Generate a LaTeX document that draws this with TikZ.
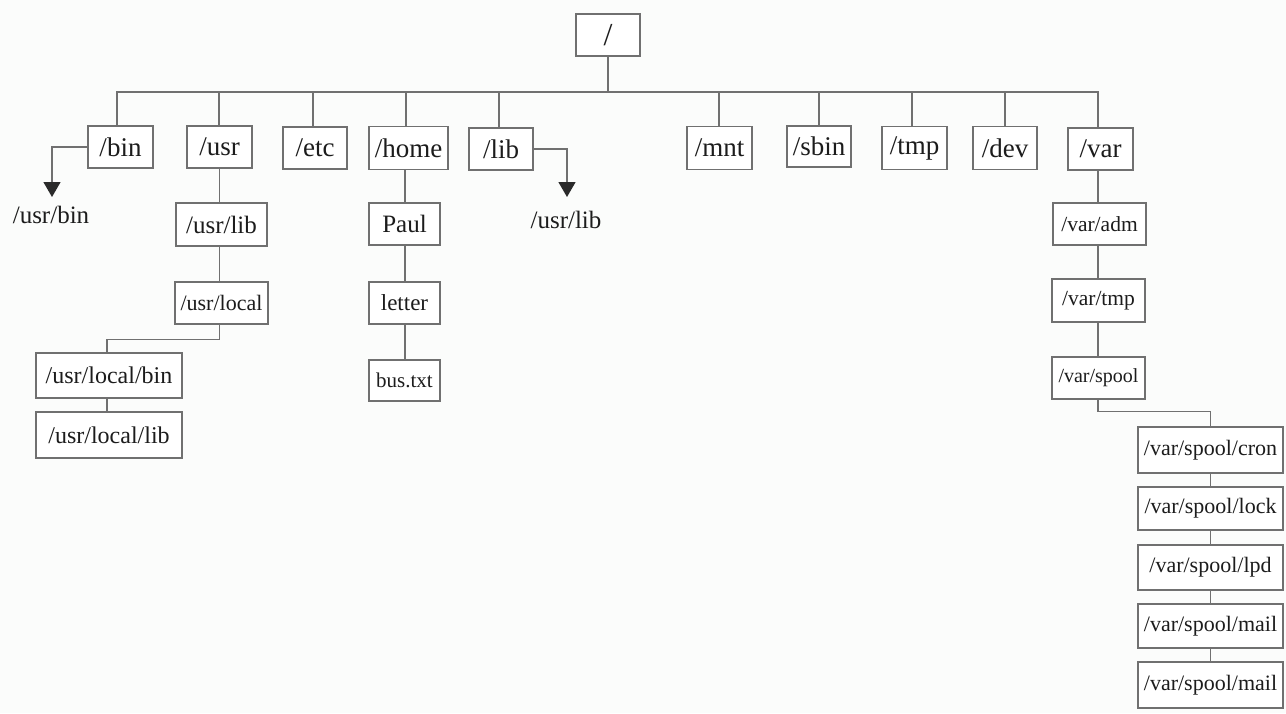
\documentclass[tikz,border=0pt]{standalone}
\usepackage{fontspec}
\setmainfont{Liberation Serif}
\usetikzlibrary{arrows.meta}
\definecolor{linegray}{HTML}{707070}
\definecolor{txt}{HTML}{1C1C1C}
\definecolor{tipcol}{HTML}{2A2A2A}
\definecolor{bg}{HTML}{FBFCFB}
\tikzset{
  box/.style={draw=linegray, line width=1.3pt, fill=white, inner sep=0pt, text=txt, anchor=center},
  fa/.style={font=\fontsize{27}{27}\selectfont},
  fb/.style={font=\fontsize{25}{25}\selectfont},
  fc/.style={font=\fontsize{22}{22}\selectfont},
  fd/.style={font=\fontsize{20}{20}\selectfont},
  conn/.style={draw=linegray, line width=1.3pt},
  arr/.style={conn, -{Triangle[width=17pt,length=15pt,fill=tipcol,color=tipcol]}},
  lbl/.style={text=txt, anchor=base, inner sep=0pt}
}
\begin{document}
\begin{tikzpicture}[x=1pt,y=-1pt]
\fill[bg] (0,0) rectangle (1286,713);
\useasboundingbox (0,0) rectangle (1286,713);

% root
\node[box, minimum width=64, minimum height=42, font=\fontsize{32}{32}\selectfont] (root) at (608,35) {/};
\coordinate (bus) at (608,92);

% level 1
\node[box, fa, minimum width=65, minimum height=42] (bin)  at (120.5,147) {/bin};
\node[box, fa, minimum width=65, minimum height=42] (usr)  at (219.5,147) {/usr};
\node[box, fa, minimum width=64, minimum height=42] (etc)  at (315,148) {/etc};
\node[box, fa, minimum width=79, minimum height=43] (home) at (408.5,148) {/home};
\node[box, fa, minimum width=64, minimum height=42] (lib)  at (501,149) {/lib};
\node[box, fa, minimum width=65, minimum height=43] (mnt)  at (719.5,148) {/mnt};
\node[box, fa, minimum width=64, minimum height=41] (sbin) at (819,146.5) {/sbin};
\node[box, fa, minimum width=65, minimum height=43] (tmp)  at (914.5,148) {/tmp};
\node[box, fa, minimum width=64, minimum height=43] (dev)  at (1005,148) {/dev};
\node[box, fa, minimum width=65, minimum height=42] (var)  at (1100.5,149) {/var};

\foreach \n/\x in {bin/117,usr/219,etc/313,home/406,lib/499,mnt/719,sbin/819,tmp/912,dev/1005,var/1098}{
  \draw[conn] (root.south) -- (bus) -- (\x,92) -- (\x,92 |- \n.north);
}

% links (arrows)
\coordinate (bintip) at (52,197);
\coordinate (libtip) at (567,197);
\draw[arr] (bin.west) -| (bintip);
\draw[arr] (lib.east) -| (libtip);
\node[lbl, fb] (usrbinlbl) at (51,223) {/usr/bin};
\node[lbl, fb] (usrliblbl) at (566,228) {/usr/lib};

% /usr subtree
\node[box, fb, minimum width=91, minimum height=43] (usrlib) at (221.5,224.5) {/usr/lib};
\node[box, fc, minimum width=93, minimum height=42] (usrlocal) at (221.5,303) {/usr/local};
\node[box, minimum width=146, minimum height=45, font=\fontsize{24}{24}\selectfont] (ulbin) at (109,375.5) {/usr/local/bin};
\node[box, minimum width=146, minimum height=46, font=\fontsize{24}{24}\selectfont] (ullib) at (109,435) {/usr/local/lib};
\draw[conn] (usr.south) -- (usr.south |- usrlib.north);
\draw[conn] (usr.south |- usrlib.south) -- (usr.south |- usrlocal.north);
\draw[conn] (usr.south |- usrlocal.south) -- ++(0,15) -| (107,0 |- ulbin.north);
\draw[conn] (107,0 |- ulbin.south) -- (107,0 |- ullib.north);

% /home subtree
\node[box, fb, minimum width=71, minimum height=42] (paul) at (404.5,224) {Paul};
\node[box, minimum width=71, minimum height=42, font=\fontsize{23}{23}\selectfont] (letter) at (404.5,303) {letter};
\node[box, minimum width=71, minimum height=41, font=\fontsize{21}{21}\selectfont] (bustxt) at (404.5,380.5) {bus.txt};
\coordinate (hx) at (405,0);
\draw[conn] (hx |- home.south) -- (hx |- paul.north);
\draw[conn] (hx |- paul.south) -- (hx |- letter.north);
\draw[conn] (hx |- letter.south) -- (hx |- bustxt.north);

% /var subtree
\node[box, minimum width=93, minimum height=42, font=\fontsize{21.5}{21.5}\selectfont] (varadm) at (1099.5,224) {/var/adm};
\node[box, minimum width=93, minimum height=43, font=\fontsize{21.5}{21.5}\selectfont] (vartmp) at (1098.5,300.5) {/var/tmp};
\node[box, fd, minimum width=93, minimum height=42] (spool) at (1098.5,378) {/var/spool};
\coordinate (vx) at (1098,0);
\draw[conn] (vx |- var.south) -- (vx |- varadm.north);
\draw[conn] (vx |- varadm.south) -- (vx |- vartmp.north);
\draw[conn] (vx |- vartmp.south) -- (vx |- spool.north);

\node[box, fc, minimum width=145, minimum height=46] (cron) at (1210.5,450) {/var/spool/cron};
\node[box, fc, minimum width=145, minimum height=43] (lock) at (1210.5,508.5) {/var/spool/lock};
\node[box, fc, minimum width=145, minimum height=45] (lpd)  at (1210.5,567.5) {/var/spool/lpd};
\node[box, fc, minimum width=145, minimum height=44] (mail) at (1210.5,626) {/var/spool/mail};
\node[box, fc, minimum width=145, minimum height=46] (mailb) at (1210.5,685) {/var/spool/mail};
\draw[conn] (vx |- spool.south) -- ++(0,12) -| (cron.north);
\draw[conn] (cron.south) -- (lock.north);
\draw[conn] (lock.south) -- (lpd.north);
\draw[conn] (lpd.south) -- (mail.north);
\draw[conn] (mail.south) -- (mailb.north);
\end{tikzpicture}
\end{document}
